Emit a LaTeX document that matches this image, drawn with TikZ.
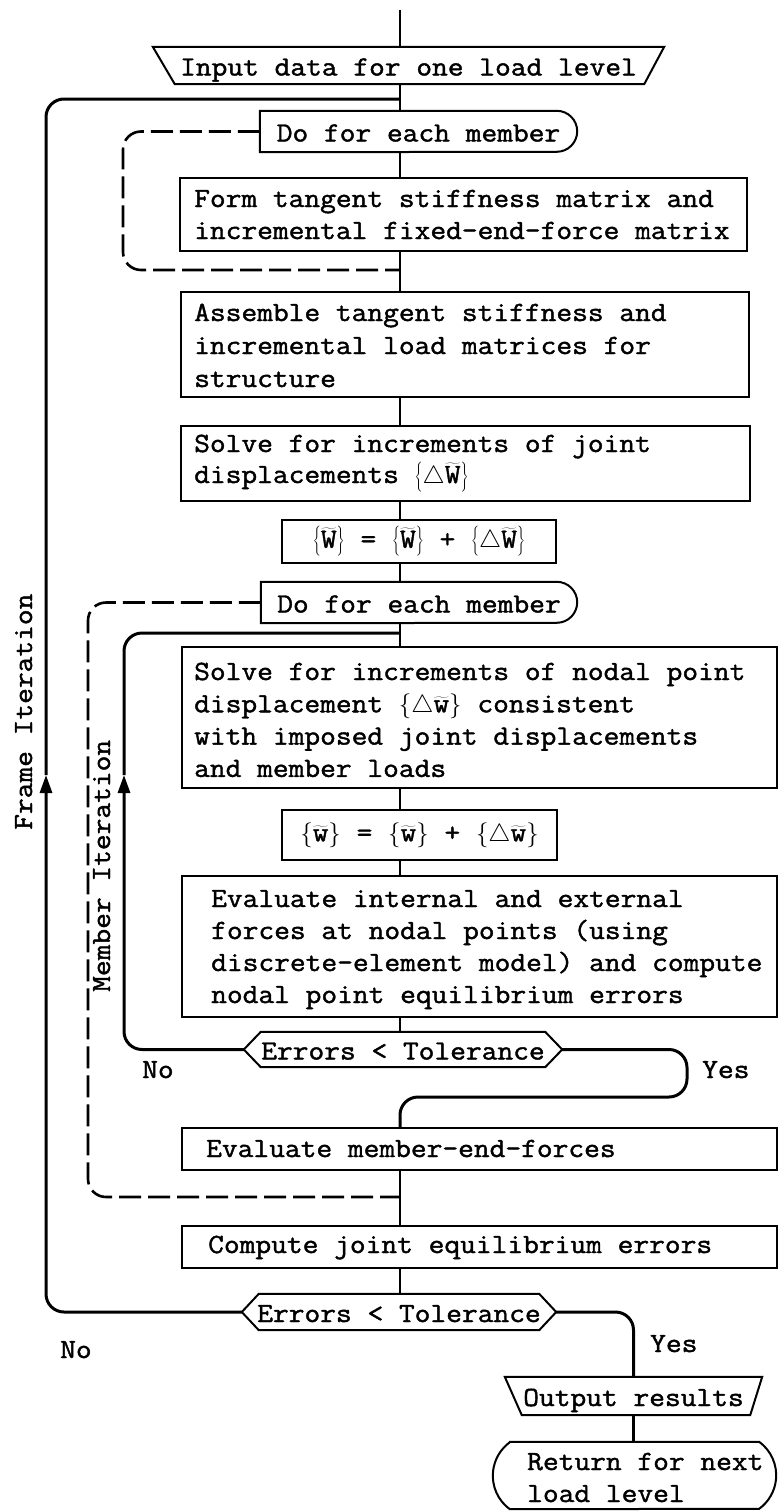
\documentclass[tikz,border=0pt]{standalone}
\usepackage{fontspec}
\usetikzlibrary{arrows.meta}
\newfontfamily\twfam{Latin Modern Mono}[FakeStretch=1.1, FakeBold=1.5]
\newcommand\tw{\twfam\fontsize{27.8pt}{32.3pt}\selectfont}
\newcommand\vecw[2]{$\left\{#1\widetilde{\hbox{\tw #2}}\right\}$}
\newcommand\lns[2]{\vtop{\baselineskip=#1\relax #2}}
\tikzset{
  txt/.style={font=\tw, inner sep=0pt},
  frm/.style={rectangle, draw=none, inner sep=0pt, font=\tw, text height=20pt, text depth=0pt},
  bx/.style={rectangle, draw, line width=2pt, inner sep=0pt},
  shp/.style={line width=2pt, line join=miter},
  flow/.style={line width=2.2pt},
  loopl/.style={line width=3pt, rounded corners=18pt},
  dashl/.style={line width=2.6pt, rounded corners=18pt, dash pattern=on 22pt off 7pt},
  tip/.style={-{Triangle[length=18pt,width=12pt]}}
}
\begin{document}
\begin{tikzpicture}[x=1pt,y=1pt]
\useasboundingbox (0,0) rectangle (778,-1512);
\coordinate (sp) at (400,-10);

% input
\node[frm, minimum width=511pt, minimum height=37pt] (in) at (408.5,-65.5) {Input data for one load level};
\draw[shp] (in.north west) -- (in.north east) -- ([xshift=-20pt]in.south east) -- ([xshift=22pt]in.south west) -- cycle;

% do loop 1
\node[frm, minimum width=317pt, minimum height=41pt] (do1) at (418.5,-131.5) {Do for each member};
\draw[shp] (do1.north west) -- ([xshift=-20.5pt]do1.north east) arc[start angle=90, end angle=-90, radius=20.5pt] -- (do1.south west) -- cycle;

\node[bx, minimum width=567pt, minimum height=73pt] (form) at (463.5,-214.5) {};
\node[txt, anchor=base west] (formt) at (194,-207) {\lns{32pt}{\hbox{Form tangent stiffness matrix and}\hbox{incremental fixed-end-force matrix}}};

\node[bx, minimum width=568pt, minimum height=105pt] (asm) at (465,-344.5) {};
\node[txt, anchor=base west] (asmt) at (194,-321) {\lns{33pt}{\hbox{Assemble tangent stiffness and}\hbox{incremental load matrices for}\hbox{structure}}};

\node[bx, minimum width=569pt, minimum height=75pt] (solve) at (465.5,-463.5) {};
\node[txt, anchor=base west] (solvet) at (194,-452) {\lns{31pt}{\hbox{Solve for increments of joint}\hbox{displacements \vecw{\triangle}{W}}}};

\node[bx, minimum width=274pt, minimum height=43pt, font=\tw] (eq1) at (419,-541.5) {\vecw{}{W} = \vecw{}{W} + \vecw{\triangle}{W}};

% do loop 2
\node[frm, minimum width=316pt, minimum height=41pt] (do2) at (419,-602.5) {Do for each member};
\draw[shp] (do2.north west) -- ([xshift=-20.5pt]do2.north east) arc[start angle=90, end angle=-90, radius=20.5pt] -- (do2.south west) -- cycle;

\node[bx, minimum width=595pt, minimum height=141pt] (snod) at (479.5,-717.5) {};
\node[txt, anchor=base west] (snodt) at (194,-680) {\lns{32.3pt}{\hbox{Solve for increments of nodal point}\hbox{displacement \vecw{\triangle}{w} consistent}\hbox{with imposed joint displacements}\hbox{and member loads}}};

\node[bx, minimum width=275pt, minimum height=50pt, font=\tw] (eq2) at (419.5,-835) {\vecw{}{w} = \vecw{}{w} + \vecw{\triangle}{w}};

\node[bx, minimum width=595pt, minimum height=141pt] (evi) at (479.5,-946.5) {};
\node[txt, anchor=base west] (evit) at (211,-907) {\lns{32pt}{\hbox{Evaluate internal and external}\hbox{forces at nodal points (using}\hbox{discrete-element model) and compute}\hbox{nodal point equilibrium errors}}};

% decision 1
\node[frm, minimum width=318pt, minimum height=35pt] (dec1) at (403,-1049.5) {Errors < Tolerance};
\draw[shp] (dec1.west) -- ([xshift=17pt]dec1.north west) -- ([xshift=-17pt]dec1.north east) -- (dec1.east) -- ([xshift=-17pt]dec1.south east) -- ([xshift=17pt]dec1.south west) -- cycle;

\node[bx, minimum width=595pt, minimum height=42pt] (emf) at (479.5,-1149) {};
\node[txt, anchor=base west] (emft) at (206,-1157) {Evaluate member-end-forces};

\node[bx, minimum width=595pt, minimum height=42pt] (cje) at (479.5,-1247) {};
\node[txt, anchor=base west] (cjet) at (208,-1253) {Compute joint equilibrium errors};

% decision 2
\node[frm, minimum width=314pt, minimum height=36pt] (dec2) at (399,-1312) {Errors < Tolerance};
\draw[shp] (dec2.west) -- ([xshift=17pt]dec2.north west) -- ([xshift=-17pt]dec2.north east) -- (dec2.east) -- ([xshift=-17pt]dec2.south east) -- ([xshift=17pt]dec2.south west) -- cycle;

% output
\node[frm, minimum width=257pt, minimum height=38pt] (out) at (633.5,-1396) {Output results};
\draw[shp] (out.north west) -- (out.north east) -- ([xshift=-12pt]out.south east) -- ([xshift=17pt]out.south west) -- cycle;

% return terminal
\node[frm, minimum width=283pt, minimum height=67pt] (ret) at (634.5,-1475.5) {};
\draw[shp] ([xshift=17pt]ret.north west) -- ([xshift=-17pt]ret.north east) arc[start angle=53.8, end angle=-53.8, radius=41.5pt] -- ([xshift=17pt]ret.south west) arc[start angle=233.8, end angle=126.2, radius=41.5pt] -- cycle;
\node[txt, anchor=base west] (rett) at (527,-1470) {\lns{32pt}{\hbox{Return for next}\hbox{load level}}};

% labels
\node[txt, anchor=base west] (no1) at (142,-1078) {No};
\node[txt, anchor=base west] (yes1) at (702,-1078) {Yes};
\node[txt, anchor=base west] (no2) at (60,-1358) {No};
\node[txt, anchor=base west] (yes2) at (650,-1352) {Yes};
\node[txt, rotate=90, anchor=base west] (fit) at (32,-830) {Frame Iteration};
\node[txt, rotate=90, anchor=base west] (mit) at (110,-992) {Member Iteration};

% spine
\draw[flow] (sp) -- (in.north -| sp);
\draw[flow] (in.south -| sp) -- (do1.north -| sp);
\draw[flow] (do1.south -| sp) -- (form.north -| sp);
\draw[flow] (form.south -| sp) -- (asm.north -| sp);
\draw[flow] (asm.south -| sp) -- (solve.north -| sp);
\draw[flow] (solve.south -| sp) -- (eq1.north -| sp);
\draw[flow] (eq1.south -| sp) -- (do2.north -| sp);
\draw[flow] (do2.south -| sp) -- (snod.north -| sp);
\draw[flow] (snod.south -| sp) -- (eq2.north -| sp);
\draw[flow] (eq2.south -| sp) -- (evi.north -| sp);
\draw[flow] (evi.south -| sp) -- (dec1.north -| sp);
\draw[flow] (emf.south -| sp) -- (cje.north -| sp);
\draw[flow] (cje.south -| sp) -- (dec2.north -| sp);
\draw[flow] (out.south) -- (out.south |- ret.north);

% frame iteration loop
\coordinate (ftop) at (400,-99);
\coordinate (fa) at (46,-775);
\draw[loopl, tip] (dec2.west) -| (fa);
\draw[loopl] (fa) |- (ftop);

% member iteration loop
\coordinate (mtop) at (400,-633);
\coordinate (ma) at (124,-775);
\draw[loopl, tip] (dec1.west) -| (ma);
\draw[loopl] (ma) |- (mtop);

% dashed do-loops
\coordinate (d1c) at (123,-270);
\coordinate (d1e) at (400,-270);
\draw[dashl] (do1.west) -| (d1c) -- (d1e);
\coordinate (d2c) at (88,-1197);
\coordinate (d2e) at (400,-1197);
\draw[dashl] (do2.west) -| (d2c) -- (d2e);

% yes branches
\coordinate (y1a) at (687,-1097);
\coordinate (y1b) at (400,-1097);
\draw[loopl] (dec1.east) -| (y1a) -- (y1b) -- (emf.north -| sp);
\draw[loopl] (dec2.east) -| (out.north);
\end{tikzpicture}
\end{document}
